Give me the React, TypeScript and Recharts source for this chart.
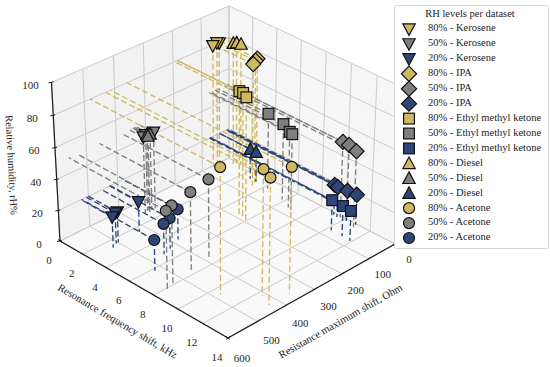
import React from 'react';
import { ScatterChart, Scatter, XAxis, YAxis, Customized } from 'recharts';

const W_PX = 550, H_PX = 367;
const freqTicks = [0, 2, 4, 6, 8, 10, 12, 14];
const resTicks = [0, 100, 200, 300, 400, 500, 600];
const rhTicks = [0, 20, 40, 60, 80, 100];
const FREQ_MAX = 14, RES_MAX = 600, RH_MAX = 100;

const YELLOW = '#cfb95f', GREY = '#7f7f7f', BLUE = '#2e4677';

// [frequency shift kHz, resistance shift Ohm]
const kerosene80 = [[0.1, 40], [0.0, 44], [0.1, 63]];
const kerosene50 = [[1.2, 320], [1.1, 343], [1.2, 355]];
const kerosene20 = [[2.5, 428], [2.5, 500], [2.5, 507], [2.7, 525]];
const ipa80 = [[3.1, 30], [3.2, 41], [3.4, 58]];
const ipa50 = [[9.7, 7], [10.2, 7], [11.0, 17]];
const ipa20 = [[9.2, 9], [9.5, 11], [10.2, 7], [10.9, 4]];
const emk80 = [[5.2, 185], [5.5, 185], [6.0, 195]];
const emk50 = [[4.3, 40], [5.8, 51], [6.7, 68], [7.0, 72]];
const emk20 = [[10.3, 69], [11.2, 70], [11.9, 73]];
const diesel80 = [[0.7, 14], [0.8, 6], [1.1, 3]];
const diesel50 = [[1.1, 338], [1.2, 332], [1.3, 343]];
const diesel20 = [[2.7, 36], [3.2, 36]];
const acetone80 = [[10.6, 481], [12.4, 414], [13.3, 430], [13.3, 358]];
const acetone50 = [[7.3, 382], [7.6, 456], [7.9, 531], [8.1, 558]];
const acetone20 = [[4.7, 382], [5.1, 426], [5.3, 455], [6.2, 523]];

type Shape = 'down' | 'diamond' | 'square' | 'up' | 'circle';
type Series = { name: string; rh: number; color: string; shape: Shape; points: number[][] };
const legendTitle = 'RH levels per dataset';
const series: Series[] = [
  { name: '80% - Kerosene', rh: 80, color: YELLOW, shape: 'down', points: kerosene80 },
  { name: '50% - Kerosene', rh: 50, color: GREY, shape: 'down', points: kerosene50 },
  { name: '20% - Kerosene', rh: 20, color: BLUE, shape: 'down', points: kerosene20 },
  { name: '80% - IPA', rh: 80, color: YELLOW, shape: 'diamond', points: ipa80 },
  { name: '50% - IPA', rh: 50, color: GREY, shape: 'diamond', points: ipa50 },
  { name: '20% - IPA', rh: 20, color: BLUE, shape: 'diamond', points: ipa20 },
  { name: '80% - Ethyl methyl ketone', rh: 80, color: YELLOW, shape: 'square', points: emk80 },
  { name: '50% - Ethyl methyl ketone', rh: 50, color: GREY, shape: 'square', points: emk50 },
  { name: '20% - Ethyl methyl ketone', rh: 20, color: BLUE, shape: 'square', points: emk20 },
  { name: '80% - Diesel', rh: 80, color: YELLOW, shape: 'up', points: diesel80 },
  { name: '50% - Diesel', rh: 50, color: GREY, shape: 'up', points: diesel50 },
  { name: '20% - Diesel', rh: 20, color: BLUE, shape: 'up', points: diesel20 },
  { name: '80% - Acetone', rh: 80, color: YELLOW, shape: 'circle', points: acetone80 },
  { name: '50% - Acetone', rh: 50, color: GREY, shape: 'circle', points: acetone50 },
  { name: '20% - Acetone', rh: 20, color: BLUE, shape: 'circle', points: acetone20 },
];
// acetone 20 % sits beneath acetone 50 % in the picture
const drawOrder = [1, 0, 2, 10, 3, 9, 4, 5, 6, 7, 8, 11, 12, 14, 13];

// Perspective projection of the plot box
const O = [229, 158], U = [395, 244], V = [60, 241], T = [229, 6];
const g = [-0.0517, -0.0633, -0.045];
const col = (p: number[], k: number) => [p[0] * (1 + k) - O[0], p[1] * (1 + k) - O[1]];
const a1 = col(U, g[0]), a2 = col(V, g[1]), a3 = col(T, g[2]);
function project(f: number, r: number, h: number) {
  const u = f / FREQ_MAX, v = r / RES_MAX, w = h / RH_MAX;
  const d = g[0] * u + g[1] * v + g[2] * w + 1;
  return {
    x: (a1[0] * u + a2[0] * v + a3[0] * w + O[0]) / d,
    y: (a1[1] * u + a2[1] * v + a3[1] * w + O[1]) / d,
  };
}

function Marker({ cx, cy, shape, color }: { cx: number; cy: number; shape: Shape; color: string }) {
  const s = { fill: color, stroke: '#111', strokeWidth: 1.2 };
  if (shape === 'circle') return <circle cx={cx} cy={cy} r={5.5} {...s} />;
  if (shape === 'square') return <rect x={cx - 5.4} y={cy - 5.4} width={10.8} height={10.8} {...s} />;
  if (shape === 'diamond') return <polygon points={`${cx},${cy - 7.6} ${cx + 7.6},${cy} ${cx},${cy + 7.6} ${cx - 7.6},${cy}`} {...s} />;
  if (shape === 'up') return <polygon points={`${cx},${cy - 6.4} ${cx + 6.2},${cy + 5.2} ${cx - 6.2},${cy + 5.2}`} {...s} />;
  return <polygon points={`${cx},${cy + 6.4} ${cx + 6.2},${cy - 5.2} ${cx - 6.2},${cy - 5.2}`} {...s} />;
}

const poly = (pts: { x: number; y: number }[]) => pts.map((p) => `${p.x},${p.y}`).join(' ');
const TXT = '#1c1c1c';
const FONT = '"Liberation Serif", serif';

function Frame() {
  const grid = '#cbcbcb';
  const seg = (a: { x: number; y: number }, b: { x: number; y: number }, key: string, stroke = grid, sw = 1) => (
    <line key={key} x1={a.x} y1={a.y} x2={b.x} y2={b.y} stroke={stroke} strokeWidth={sw} />
  );
  return (
    <g style={{ fontFamily: FONT }}>
      <polygon points={poly([project(0, 0, 0), project(0, RES_MAX, 0), project(0, RES_MAX, RH_MAX), project(0, 0, RH_MAX)])} fill="#f2f2f2" />
      <polygon points={poly([project(0, 0, 0), project(FREQ_MAX, 0, 0), project(FREQ_MAX, 0, RH_MAX), project(0, 0, RH_MAX)])} fill="#f6f6f6" />
      <polygon points={poly([project(0, 0, 0), project(FREQ_MAX, 0, 0), project(FREQ_MAX, RES_MAX, 0), project(0, RES_MAX, 0)])} fill="#f9f9f9" />
      {rhTicks.map((h) => seg(project(0, RES_MAX, h), project(0, 0, h), `zl${h}`))}
      {rhTicks.map((h) => seg(project(0, 0, h), project(FREQ_MAX, 0, h), `zr${h}`))}
      {resTicks.map((r) => seg(project(0, r, 0), project(0, r, RH_MAX), `rw${r}`))}
      {resTicks.map((r) => seg(project(0, r, 0), project(FREQ_MAX, r, 0), `rf${r}`))}
      {freqTicks.map((f) => seg(project(f, 0, 0), project(f, 0, RH_MAX), `fw${f}`))}
      {freqTicks.map((f) => seg(project(f, 0, 0), project(f, RES_MAX, 0), `ff${f}`))}
      {seg(project(0, RES_MAX, 0), project(FREQ_MAX, RES_MAX, 0), 'ax1', '#1a1a1a', 1.2)}
      {seg(project(FREQ_MAX, RES_MAX, 0), project(FREQ_MAX, 0, 0), 'ax2', '#1a1a1a', 1.2)}
      {seg(project(0, RES_MAX, 0), project(0, RES_MAX, RH_MAX), 'ax3', '#1a1a1a', 1.2)}
      {freqTicks.map((f) => {
        const p = project(f, RES_MAX, 0);
        return (
          <g key={`ft${f}`}>
            <line x1={p.x - 2} y1={p.y - 1.5} x2={p.x + 2} y2={p.y + 1.5} stroke="#222" strokeWidth={1} />
            <text x={p.x - 11} y={p.y + 20.5} fontSize={11} fill={TXT} textAnchor="middle" dominantBaseline="middle">{f}</text>
          </g>
        );
      })}
      {resTicks.map((r) => {
        const p = project(FREQ_MAX, r, 0);
        return (
          <g key={`rt${r}`}>
            <line x1={p.x + 2} y1={p.y - 1.5} x2={p.x - 2} y2={p.y + 1.5} stroke="#222" strokeWidth={1} />
            <text x={p.x + 14} y={p.y + 16 + (r / RES_MAX) * 5} fontSize={11} fill={TXT} textAnchor="middle" dominantBaseline="middle">{r}</text>
          </g>
        );
      })}
      {rhTicks.map((h) => {
        const p = project(0, RES_MAX, h);
        return (
          <g key={`zt${h}`}>
            <line x1={p.x - 3} y1={p.y + 0.5} x2={p.x + 2} y2={p.y - 0.5} stroke="#222" strokeWidth={1} />
            <text x={p.x - 21} y={p.y + 4} fontSize={11} fill={TXT} textAnchor="middle" dominantBaseline="middle">{h}</text>
          </g>
        );
      })}
      <text x={0} y={0} transform="translate(10.5 165) rotate(87)" fontSize={10.5} fill={TXT} textAnchor="middle" dominantBaseline="middle">Relative humidity, rH%</text>
      <text x={0} y={0} transform="translate(117 322) rotate(30.5)" fontSize={10.7} fill={TXT} textAnchor="middle" dominantBaseline="middle">Resonance frequency shift, kHz</text>
      <text x={0} y={0} transform="translate(341 322) rotate(-29.5)" fontSize={10.7} fill={TXT} textAnchor="middle" dominantBaseline="middle">Resistance maximum shift, Ohm</text>

      <rect x={394.5} y={5.5} width={154} height={243} rx={2} fill="#fff" stroke="#d5d5d5" />
      <text x={470} y={14.5} fontSize={10.5} fill={TXT} textAnchor="middle" dominantBaseline="middle">{legendTitle}</text>
      {series.map((s, i) => {
        const y = 29 + i * 14.93;
        return (
          <g key={s.name}>
            <Marker cx={409} cy={y} shape={s.shape} color={s.color} />
            <text x={428} y={y} fontSize={10.5} fill={TXT} dominantBaseline="middle">{s.name}</text>
          </g>
        );
      })}
    </g>
  );
}

function Drops(props: any) {
  const { cx, cy, payload } = props;
  if (cx == null) return null;
  const foot = project(payload.f, payload.r, 0);
  const wall = project(0, payload.r, payload.h);
  const common = { stroke: payload.color, strokeWidth: 1.35, strokeDasharray: '6 3', fill: 'none' };
  return (
    <g>
      <line x1={cx} y1={cy} x2={foot.x} y2={foot.y} {...common} />
      <line x1={cx} y1={cy} x2={wall.x} y2={wall.y} {...common} />
    </g>
  );
}

const tableOf = (s: Series) =>
  s.points.map(([f, r]) => {
    const p = project(f, r, s.rh);
    return { sx: p.x, sy: p.y, f, r, h: s.rh, color: s.color };
  });

export default function App() {
  const ordered = drawOrder.map((i) => series[i]);
  return (
    <div style={{ position: 'absolute', left: 0, top: 0, width: W_PX, height: H_PX }}>
      <ScatterChart width={W_PX} height={H_PX} margin={{ top: 0, right: 0, bottom: 0, left: 0 }}>
        <XAxis hide type="number" dataKey="sx" domain={[0, W_PX]} />
        <YAxis hide type="number" dataKey="sy" domain={[0, H_PX]} reversed />
        <Customized component={Frame} />
        {ordered.map((s) => (
          <Scatter key={`d${s.name}`} data={tableOf(s)} isAnimationActive={false} legendType="none" shape={Drops} />
        ))}
        {ordered.map((s) => (
          <Scatter
            key={s.name}
            name={s.name}
            data={tableOf(s)}
            isAnimationActive={false}
            shape={(p: any) => <Marker cx={p.cx} cy={p.cy} shape={s.shape} color={s.color} />}
          />
        ))}
      </ScatterChart>
    </div>
  );
}
